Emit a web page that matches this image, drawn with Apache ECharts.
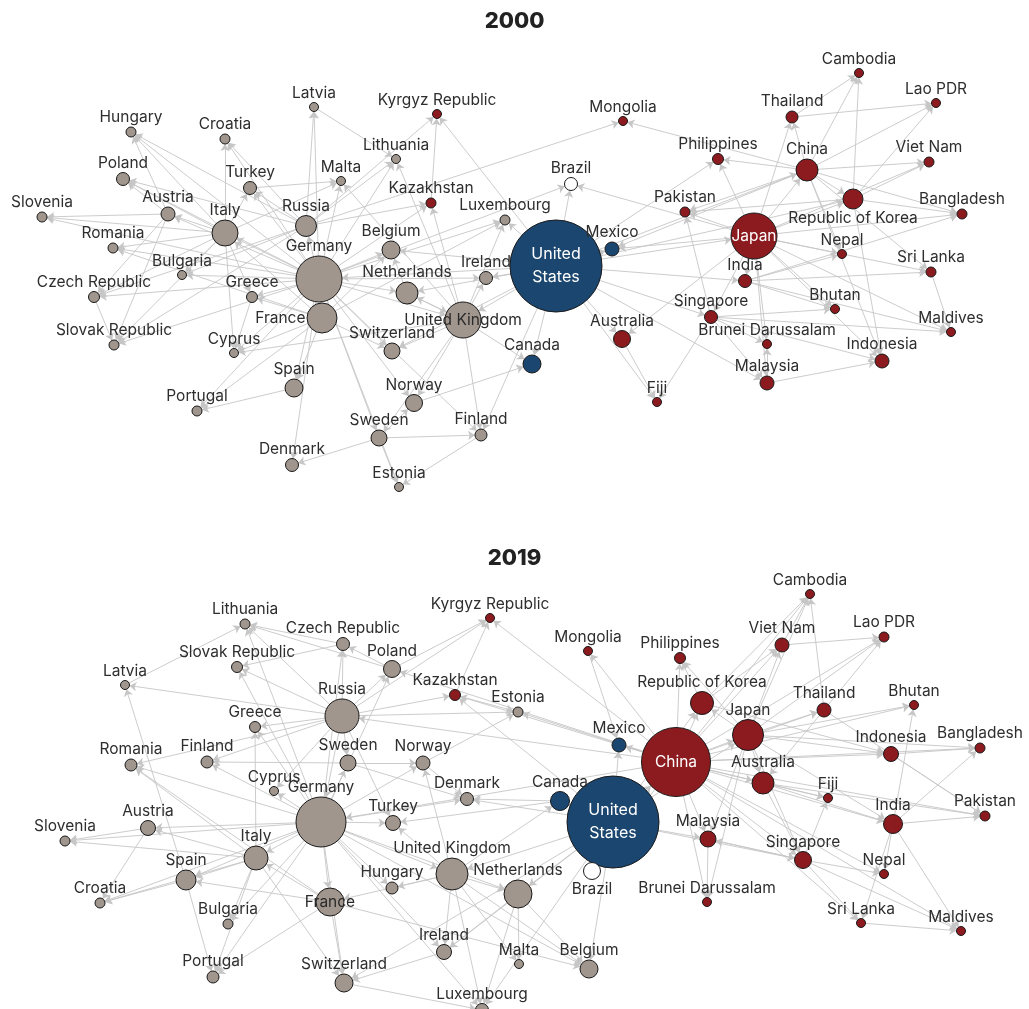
<!DOCTYPE html>
<html>
<head>
<meta charset="utf-8">
<title>Networks 2000 / 2019</title>
<script src="https://cdn.jsdelivr.net/npm/echarts@6/dist/echarts.min.js"></script>
<style>
  html, body { margin: 0; padding: 0; background: #fff; }
  #chart { width: 1029px; height: 1009px; }
</style>
</head>
<body>
<div id="chart"></div>
<script>
// ---- 2000 ----
const names2000 = ['Hungary', 'Croatia', 'Poland', 'Latvia', 'Turkey', 'Slovenia', 'Austria', 'Italy', 'Russia', 'Romania',
  'Bulgaria', 'Germany', 'Czech Republic', 'Greece', 'France', 'Slovak Republic', 'Cyprus', 'Spain', 'Portugal', 'Denmark',
  'Malta', 'Kyrgyz Republic', 'Mongolia', 'Lithuania', 'Brazil', 'Kazakhstan', 'Luxembourg', 'United States', 'Mexico', 'Belgium',
  'Ireland', 'Netherlands', 'United Kingdom', 'Switzerland', 'Australia', 'Canada', 'Fiji', 'Norway', 'Sweden', 'Finland',
  'Estonia', 'Cambodia', 'Lao PDR', 'Thailand', 'Philippines', 'China', 'Viet Nam', 'Pakistan', 'Republic of Korea', 'Bangladesh',
  'Japan', 'Nepal', 'Sri Lanka', 'India', 'Bhutan', 'Singapore', 'Maldives', 'Brunei Darussalam', 'Indonesia', 'Malaysia'];
const x2000 = [131, 225, 123, 314, 250, 42, 168, 225, 306, 113,
  182, 319, 94, 252, 322, 114, 234, 294, 197, 292,
  341, 437, 623, 396, 571, 431, 505, 556, 612, 391,
  486, 407, 463, 392, 622, 532, 657, 414, 379, 481,
  399, 859, 936, 792, 718, 807, 929, 685, 853, 962,
  754, 842, 931, 745, 835, 711, 951, 767, 882, 767];
const y2000 = [132, 139, 179, 107, 188, 217, 214, 233, 226, 248,
  275, 279, 297, 297, 318, 345, 353, 388, 411, 465,
  181, 114, 121, 159, 184, 203, 220, 266, 249, 250,
  278, 293, 320, 351, 339, 364, 402, 403, 438, 435,
  487, 73, 103, 117, 159, 170, 162, 212, 199, 214,
  236, 254, 272, 281, 309, 317, 332, 344, 361, 383];
const weight2000 = [10, 10, 13, 9, 13, 10, 14, 26, 21, 10,
  9, 46, 11, 11, 30, 10, 9, 18, 10, 13,
  9, 9, 9, 9, 13, 10, 10, 92, 14, 18,
  13, 22, 36, 16, 17, 18, 9, 17, 16, 12,
  9, 9, 9, 12, 11, 22, 10, 10, 20, 10,
  46, 9, 10, 13, 9, 13, 9, 9, 14, 14];
const links2000 = [
  ['Germany', ['Hungary', 'Poland', 'Croatia', 'Slovenia', 'Austria', 'Italy', 'Russia', 'Romania', 'Bulgaria', 'Czech Republic',
    'Greece', 'France', 'Slovak Republic', 'Cyprus', 'Spain', 'Portugal', 'Denmark', 'Turkey', 'Latvia', 'Lithuania', 'Malta',
    'Netherlands', 'Belgium', 'Switzerland', 'United Kingdom', 'Sweden', 'Norway', 'Finland', 'Kazakhstan', 'Luxembourg',
    'Ireland', 'Estonia', 'Brazil']],
  ['Italy', ['Slovenia', 'Croatia', 'Austria', 'Romania', 'Bulgaria', 'Greece', 'Turkey', 'Hungary', 'Czech Republic',
    'Slovak Republic', 'Poland', 'Cyprus', 'Malta']],
  ['Austria', ['Slovenia', 'Hungary', 'Czech Republic', 'Slovak Republic', 'Poland']],
  ['France', ['Spain', 'Portugal', 'Italy', 'Cyprus', 'Greece', 'Belgium', 'Switzerland', 'Romania', 'Luxembourg']],
  ['Russia', ['Latvia', 'Lithuania', 'Kazakhstan', 'Kyrgyz Republic', 'Turkey', 'Bulgaria', 'Poland', 'Mongolia',
    'Slovak Republic', 'Hungary', 'Czech Republic', 'Croatia']],
  ['Spain', ['Portugal']],
  ['Czech Republic', ['Slovak Republic']],
  ['Greece', ['Cyprus']],
  ['Turkey', ['Malta']],
  ['Latvia', ['Lithuania']],
  ['Kazakhstan', ['Kyrgyz Republic']],
  ['Netherlands', ['Belgium', 'United Kingdom']],
  ['United Kingdom', ['Ireland', 'Norway', 'Sweden', 'Finland', 'Canada', 'Netherlands', 'Switzerland', 'Luxembourg',
    'Lithuania', 'Kazakhstan', 'Malta', 'Cyprus']],
  ['Sweden', ['Finland', 'Estonia', 'Norway', 'Denmark']],
  ['Finland', ['Estonia']],
  ['Norway', ['Canada']],
  ['United States', ['Canada', 'Mexico', 'Brazil', 'Ireland', 'United Kingdom', 'Japan', 'Australia', 'Singapore', 'India',
    'Malaysia', 'Philippines', 'Luxembourg', 'Germany', 'Netherlands', 'Republic of Korea', 'China', 'Kyrgyz Republic',
    'Switzerland', 'Finland', 'Belgium', 'Fiji']],
  ['Japan', ['China', 'Republic of Korea', 'Thailand', 'Philippines', 'Indonesia', 'Malaysia', 'Singapore', 'Brunei Darussalam',
    'India', 'Pakistan', 'Nepal', 'Bhutan', 'Bangladesh', 'Sri Lanka', 'Viet Nam', 'Australia', 'Mexico', 'Maldives', 'Brazil']],
  ['China', ['Mongolia', 'Cambodia', 'Lao PDR', 'Viet Nam', 'Thailand', 'Republic of Korea', 'Bangladesh', 'Nepal', 'Pakistan',
    'Indonesia', 'Philippines', 'Mexico', 'Sri Lanka']],
  ['Republic of Korea', ['Viet Nam', 'Lao PDR', 'Indonesia', 'Bangladesh', 'Cambodia', 'Pakistan']],
  ['Thailand', ['Cambodia', 'Lao PDR']],
  ['India', ['Sri Lanka', 'Nepal', 'Bhutan', 'Maldives', 'Bangladesh']],
  ['Singapore', ['Malaysia', 'Brunei Darussalam', 'Indonesia', 'Maldives', 'Fiji', 'Bhutan', 'Pakistan']],
  ['Malaysia', ['Indonesia', 'Brunei Darussalam']],
  ['Australia', ['Fiji']],
  ['Sri Lanka', ['Maldives']]
];

// ---- 2019 ----
const names2019 = ['Lithuania', 'Czech Republic', 'Slovak Republic', 'Latvia', 'Poland', 'Russia', 'Greece', 'Romania', 'Finland', 'Sweden',
  'Norway', 'Cyprus', 'Germany', 'Austria', 'Slovenia', 'Turkey', 'Denmark', 'Italy', 'Spain', 'Croatia',
  'France', 'Bulgaria', 'Hungary', 'United Kingdom', 'Netherlands', 'Portugal', 'Switzerland', 'Ireland', 'Malta', 'Belgium',
  'Luxembourg', 'Estonia', 'Kyrgyz Republic', 'Mongolia', 'Kazakhstan', 'Mexico', 'Canada', 'United States', 'Brazil', 'China',
  'Cambodia', 'Viet Nam', 'Lao PDR', 'Philippines', 'Republic of Korea', 'Thailand', 'Bhutan', 'Japan', 'Indonesia', 'Bangladesh',
  'Australia', 'Fiji', 'India', 'Pakistan', 'Malaysia', 'Singapore', 'Nepal', 'Brunei Darussalam', 'Sri Lanka', 'Maldives'];
const x2019 = [245, 343, 237, 125, 392, 342, 255, 131, 207, 348,
  423, 274, 321, 148, 65, 393, 467, 256, 186, 100,
  330, 228, 392, 452, 518, 213, 344, 444, 519, 589,
  482, 518, 490, 588, 455, 619, 560, 613, 592, 676,
  810, 782, 884, 680, 702, 824, 914, 748, 891, 980,
  763, 828, 893, 985, 708, 803, 884, 707, 861, 961];
const y2019 = [624, 644, 667, 685, 669, 716, 727, 765, 762, 763,
  763, 791, 822, 828, 841, 823, 799, 858, 880, 903,
  902, 924, 888, 874, 894, 977, 983, 952, 964, 969,
  1010, 712, 618, 651, 695, 745, 801, 822, 871, 762,
  594, 645, 637, 658, 703, 710, 705, 735, 754, 748,
  783, 798, 824, 816, 839, 860, 874, 902, 923, 931];
const weight2019 = [10, 13, 11, 9, 17, 34, 11, 12, 12, 16,
  14, 9, 50, 15, 10, 15, 13, 24, 20, 10,
  28, 10, 12, 32, 28, 12, 18, 15, 9, 18,
  13, 10, 9, 9, 11, 14, 19, 92, 17, 69,
  9, 14, 10, 11, 23, 14, 9, 31, 15, 10,
  22, 9, 19, 10, 16, 17, 9, 9, 9, 9];
const links2019 = [
  ['Germany', ['Lithuania', 'Czech Republic', 'Slovak Republic', 'Greece', 'Romania', 'Finland', 'Cyprus', 'Austria', 'Slovenia',
    'Italy', 'Spain', 'Croatia', 'France', 'Bulgaria', 'Portugal', 'Switzerland', 'Sweden', 'Norway', 'Denmark', 'Turkey',
    'United Kingdom', 'Hungary', 'Netherlands', 'Poland', 'Ireland', 'Luxembourg', 'Belgium']],
  ['Russia', ['Lithuania', 'Latvia', 'Slovak Republic', 'Czech Republic', 'Poland', 'Greece', 'Finland', 'Romania', 'Kazakhstan',
    'Kyrgyz Republic', 'Estonia', 'Sweden', 'Turkey', 'Cyprus', 'Germany']],
  ['China', ['Russia', 'Kazakhstan', 'Kyrgyz Republic', 'Mongolia', 'Estonia', 'Philippines', 'Republic of Korea', 'Japan',
    'Viet Nam', 'Cambodia', 'Lao PDR', 'Thailand', 'Bhutan', 'Indonesia', 'Bangladesh', 'Australia', 'Fiji', 'India', 'Pakistan',
    'Malaysia', 'Singapore', 'Nepal', 'Brunei Darussalam', 'Sri Lanka', 'Maldives', 'Mexico', 'Brazil', 'Germany', 'Poland']],
  ['United States', ['Canada', 'Mexico', 'Brazil', 'United Kingdom', 'Netherlands', 'Ireland', 'Belgium', 'Luxembourg', 'Japan',
    'Republic of Korea', 'China', 'Denmark', 'Switzerland', 'Malaysia', 'Singapore', 'Kazakhstan']],
  ['Italy', ['Spain', 'Croatia', 'Bulgaria', 'Slovenia', 'Austria', 'Romania', 'Greece', 'Switzerland', 'Portugal']],
  ['France', ['Spain', 'Portugal', 'Italy', 'Switzerland', 'Belgium', 'Romania']],
  ['Spain', ['Portugal', 'Croatia', 'Latvia']],
  ['Austria', ['Slovenia', 'Croatia']],
  ['Latvia', ['Lithuania']],
  ['Czech Republic', ['Lithuania', 'Slovak Republic']],
  ['Poland', ['Lithuania', 'Czech Republic', 'Kyrgyz Republic']],
  ['Sweden', ['Finland', 'Norway', 'Denmark']],
  ['Norway', ['Denmark', 'Estonia']],
  ['Kazakhstan', ['Kyrgyz Republic', 'Estonia']],
  ['United Kingdom', ['Ireland', 'Netherlands', 'Malta', 'Luxembourg', 'Belgium', 'Hungary', 'France', 'Canada', 'Norway', 'Turkey']],
  ['Netherlands', ['Belgium', 'Malta', 'Luxembourg', 'Ireland']],
  ['Canada', ['Denmark', 'Turkey']],
  ['Ireland', ['Switzerland']],
  ['Switzerland', ['Luxembourg']],
  ['Japan', ['Republic of Korea', 'Thailand', 'Viet Nam', 'Lao PDR', 'Cambodia', 'Indonesia', 'Australia', 'Malaysia',
    'Philippines', 'Brunei Darussalam', 'India', 'Bhutan', 'Bangladesh', 'Singapore']],
  ['Republic of Korea', ['Viet Nam', 'Philippines', 'Cambodia', 'Indonesia']],
  ['Thailand', ['Cambodia', 'Lao PDR', 'Australia', 'Pakistan']],
  ['Viet Nam', ['Lao PDR', 'Cambodia']],
  ['India', ['Bhutan', 'Bangladesh', 'Nepal', 'Sri Lanka', 'Maldives', 'Pakistan']],
  ['Singapore', ['Fiji', 'Nepal', 'Sri Lanka', 'Maldives', 'Malaysia']],
  ['Australia', ['Fiji', 'Singapore', 'India', 'Pakistan']],
  ['Malaysia', ['Brunei Darussalam', 'Singapore']],
  ['Indonesia', ['Bangladesh', 'Pakistan']],
  ['Sri Lanka', ['Maldives']],
  ['Mongolia', ['Mexico']]
];

// 地区分组（颜色）
const redGroup = ['Kyrgyz Republic', 'Mongolia', 'Kazakhstan', 'Australia', 'Fiji', 'Cambodia', 'Lao PDR', 'Thailand',
  'Philippines', 'China', 'Viet Nam', 'Pakistan', 'Republic of Korea', 'Bangladesh', 'Japan', 'Nepal', 'Sri Lanka', 'India',
  'Bhutan', 'Singapore', 'Maldives', 'Brunei Darussalam', 'Indonesia', 'Malaysia'];
const blueGroup = ['United States', 'Mexico', 'Canada'];
const whiteGroup = ['Brazil'];

const GRAY = '#a0968e';
const RED = '#8c1b20';
const BLUE = '#1b466f';
const FONT = 'Inter';

function nodeColor(name) {
  if (redGroup.includes(name)) return RED;
  if (blueGroup.includes(name)) return BLUE;
  if (whiteGroup.includes(name)) return '#ffffff';
  return GRAY;
}

// 特殊标签位置
const labelInside = {
  2000: { 'United States': '#fff', 'Japan': '#fff', 'United Kingdom': '#2b2b2b' },
  2019: { 'United States': '#fff', 'China': '#fff', 'France': '#2b2b2b' }
};
const labelPos = {
  2000: { 'France': 'left', 'Republic of Korea': 'bottom' },
  2019: { 'Brazil': 'bottom' }
};

function buildNodes(year, names, xs, ys, weights) {
  return names.map((name, i) => {
    const node = {
      name: name,
      value: [xs[i], ys[i]],
      symbolSize: weights[i],
      itemStyle: { color: nodeColor(name) }
    };
    if (labelInside[year][name]) {
      node.label = {
        position: 'inside',
        color: labelInside[year][name],
        fontSize: name === 'United States' ? 16 : 15.5,
        lineHeight: 23,
        formatter: name === 'United States' ? 'United\nStates' : name
      };
    } else if (labelPos[year][name]) {
      node.label = { position: labelPos[year][name] };
    }
    return node;
  });
}

function buildLinks(list) {
  const out = [];
  list.forEach(([src, targets]) => {
    targets.forEach((t) => out.push({ source: src, target: t }));
  });
  return out;
}

function graphSeries(year, names, xs, ys, weights, links) {
  return {
    name: String(year),
    type: 'graph',
    layout: 'none',
    coordinateSystem: 'cartesian2d',
    xAxisIndex: 0,
    yAxisIndex: 0,
    data: buildNodes(year, names, xs, ys, weights),
    links: buildLinks(links),
    edgeSymbol: ['none', 'arrow'],
    edgeSymbolSize: [0, 7],
    itemStyle: { borderColor: '#1a1a1a', borderWidth: 1 },
    lineStyle: { color: '#c6c6c6', width: 0.9, opacity: 1, curveness: 0 },
    label: {
      show: true,
      position: 'top',
      distance: 1,
      color: '#2e2e2e',
      fontFamily: FONT,
      fontSize: 15.5
    },
    emphasis: { disabled: true },
    silent: true
  };
}

const chart = echarts.init(document.getElementById('chart'));
const titleStyle = { fontFamily: FONT, fontWeight: 800, fontSize: 22, color: '#222' };
const option = {
  animation: false,
  backgroundColor: '#fff',
  title: [
    { text: '2000', left: 'center', top: 5, textStyle: titleStyle },
    { text: '2019', left: 'center', top: 542, textStyle: titleStyle }
  ],
  grid: { left: 0, right: 0, top: 0, bottom: 0 },
  xAxis: { type: 'value', min: 0, max: 1029, show: false },
  yAxis: { type: 'value', min: 0, max: 1009, inverse: true, show: false },
  series: [
    graphSeries(2000, names2000, x2000, y2000, weight2000, links2000),
    graphSeries(2019, names2019, x2019, y2019, weight2019, links2019)
  ]
};
chart.setOption(option);
window.addEventListener('resize', () => chart.resize());
</script>
</body>
</html>
